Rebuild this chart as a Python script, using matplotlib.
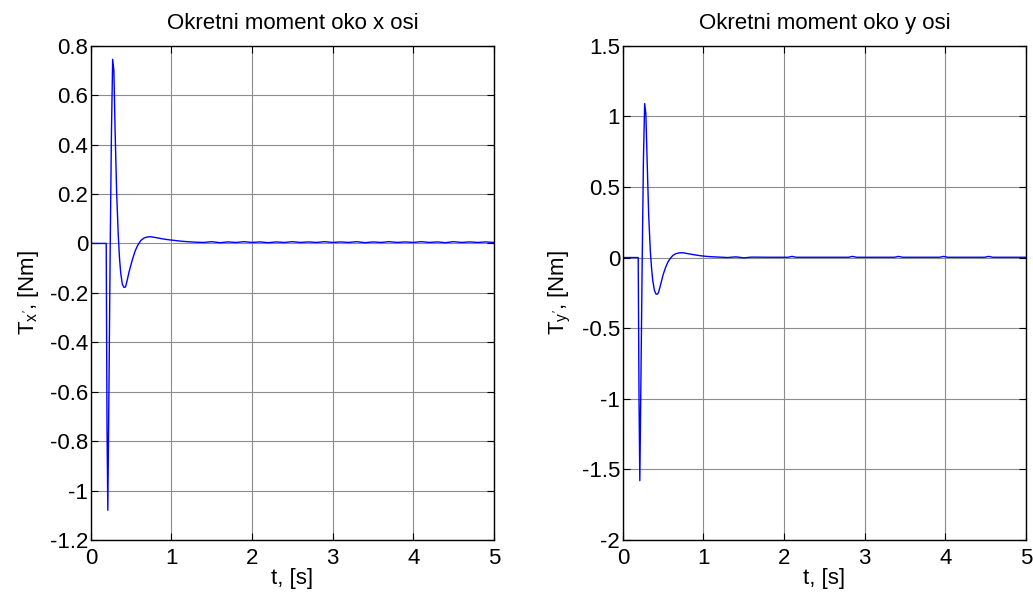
import matplotlib
matplotlib.use("Agg")
import matplotlib.pyplot as plt
import numpy as np

plt.rcParams["font.family"] = ["Liberation Sans", "DejaVu Sans"]
plt.rcParams["mathtext.fontset"] = "custom"
plt.rcParams["mathtext.rm"] = "Liberation Sans"
plt.rcParams["mathtext.it"] = "Liberation Sans"
plt.rcParams["axes.unicode_minus"] = False

# moment about x axis
t_x = [0, 0.19, 0.20, 0.21, 0.225, 0.24, 0.255, 0.27, 0.285, 0.30, 0.32, 0.34,
       0.355, 0.37, 0.39, 0.41, 0.43, 0.45, 0.47, 0.49, 0.52, 0.55, 0.58, 0.62,
       0.66, 0.70, 0.74, 0.80, 0.88, 0.96, 1.04, 1.12, 1.20, 1.30, 1.40, 1.50,
       1.60, 1.70, 1.80, 1.90, 2.00, 2.10, 2.20, 2.30, 2.40, 2.50, 2.60, 2.70,
       2.80, 2.90, 3.00, 3.10, 3.20, 3.30, 3.40, 3.50, 3.60, 3.70, 3.80, 3.90,
       4.00, 4.10, 4.20, 4.30, 4.40, 4.50, 4.60, 4.70, 4.80, 4.90, 5.00]
T_x = [0, 0, -0.75, -1.08, -0.55, 0.0, 0.45, 0.745, 0.70, 0.46, 0.20, 0.03,
       -0.06, -0.12, -0.165, -0.178, -0.176, -0.15, -0.12, -0.095, -0.06, -0.03,
       -0.008, 0.012, 0.022, 0.026, 0.027, 0.024, 0.019, 0.015, 0.012, 0.009,
       0.007, 0.005, 0.004, 0.007, 0.003, 0.006, 0.004, 0.007, 0.004, 0.006,
       0.003, 0.006, 0.004, 0.007, 0.004, 0.006, 0.004, 0.007, 0.004, 0.006,
       0.004, 0.007, 0.003, 0.006, 0.004, 0.007, 0.004, 0.006, 0.004, 0.007,
       0.004, 0.006, 0.003, 0.007, 0.004, 0.006, 0.004, 0.006, 0.004]

# moment about y axis
t_y = [0, 0.19, 0.20, 0.21, 0.225, 0.24, 0.255, 0.27, 0.285, 0.30, 0.32, 0.34,
       0.355, 0.37, 0.39, 0.41, 0.425, 0.44, 0.46, 0.48, 0.50, 0.53, 0.56, 0.59,
       0.62, 0.66, 0.70, 0.75, 0.80, 0.88, 0.96, 1.04, 1.12, 1.20, 1.30, 1.40,
       1.50, 1.60, 1.80, 2.05, 2.10, 2.15, 2.40, 2.80, 2.85, 2.90, 3.20, 3.37,
       3.42, 3.47, 3.70, 3.93, 3.98, 4.03, 4.30, 4.49, 4.54, 4.59, 4.80, 5.00]
T_y = [0, 0, -1.0, -1.58, -0.8, 0.0, 0.7, 1.09, 1.02, 0.70, 0.30, 0.05,
       -0.07, -0.16, -0.23, -0.258, -0.26, -0.25, -0.21, -0.165, -0.12, -0.07,
       -0.03, -0.005, 0.015, 0.028, 0.033, 0.034, 0.028, 0.02, 0.013, 0.008,
       0.005, 0.003, 0.0, 0.005, -0.002, 0.003, 0.002, 0.002, 0.008, 0.002,
       0.002, 0.002, 0.008, 0.002, 0.002, 0.002, 0.008, 0.002, 0.002, 0.002,
       0.008, 0.002, 0.002, 0.002, 0.008, 0.002, 0.002, 0.002]

yticks_x = [-1.2, -1, -0.8, -0.6, -0.4, -0.2, 0, 0.2, 0.4, 0.6, 0.8]
yticks_y = [-2, -1.5, -1, -0.5, 0, 0.5, 1, 1.5]

panels = [
    (t_x, T_x, "Okretni moment oko x osi", r"T$_{x'}$, [Nm]", (-1.2, 0.8), yticks_x, 0.088),
    (t_y, T_y, "Okretni moment oko y osi", r"T$_{y'}$, [Nm]", (-2, 1.5), yticks_y, 0.603),
]

fs = 16
fig = plt.figure(figsize=(10.33, 5.94), dpi=100)
for t, T, title, ylab, ylim, yticks, left in panels:
    ax = fig.add_axes([left, 0.091, 0.39, 0.832])
    ax.plot(t, T, color="blue", lw=1.0)
    ax.set_xlim(0, 5)
    ax.set_ylim(*ylim)
    ax.set_xticks(range(6))
    ax.set_yticks(yticks)
    ax.set_yticklabels([f"{v:g}" for v in yticks])
    ax.grid(True, color="#8c8c8c", lw=0.8)
    ax.tick_params(direction="in", top=True, right=True, labelsize=fs, length=5)
    ax.tick_params(axis="x", pad=6)
    ax.tick_params(axis="y", pad=2)
    for s in ax.spines.values():
        s.set_linewidth(1.0)
    ax.set_title(title, fontsize=fs, pad=12)
    ax.set_xlabel("t, [s]", fontsize=fs, labelpad=-1)
    ax.set_ylabel(ylab, fontsize=fs, labelpad=6)

fig.savefig("out.png", dpi=100)
